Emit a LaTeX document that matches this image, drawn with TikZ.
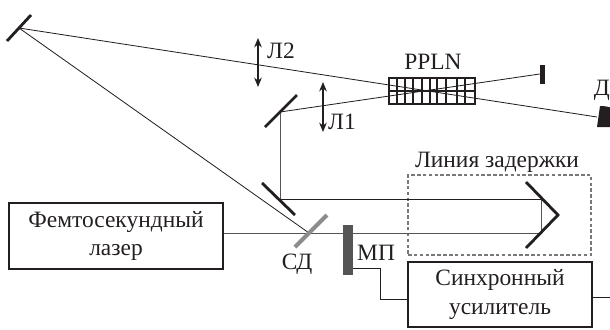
\documentclass[tikz,border=0pt]{standalone}
\usepackage{fontspec}
\setmainfont{Liberation Serif}
\usepackage{xcolor}
\usetikzlibrary{positioning,calc,arrows.meta}
\definecolor{InkDark}{RGB}{35,31,32}
\definecolor{BeamGrey}{RGB}{85,85,85}
\definecolor{DashGrey}{RGB}{120,120,120}
\definecolor{SplitGrey}{RGB}{140,140,140}
\begin{document}
\begin{tikzpicture}[
      x=0.03cm, y=-0.03cm,
      unit/.style={rectangle, draw=InkDark, line width=1.5pt, align=center, inner sep=0pt, font=\fontsize{20}{24}\selectfont, text=InkDark},
      tag/.style={inner sep=0pt, font=\fontsize{20}{23}\selectfont, text=InkDark},
      beam/.style={line width=0.7pt, InkDark},
      greybeam/.style={line width=0.8pt, BeamGrey},
      mirror/.style={line width=2.4pt, InkDark},
      lens/.style={{Stealth[length=8pt,width=6.5pt]}-{Stealth[length=8pt,width=6.5pt]}, line width=1.6pt, InkDark}
    ]
      \useasboundingbox (0,0) rectangle (610,329);
      \clip (0,0) rectangle (610,329);
      % boxes
      \node[unit, minimum width=214*0.03cm, minimum height=66*0.03cm] (laser) at (116,236) {Фемтосекундный\\лазер};
      \node[unit, minimum width=184*0.03cm, minimum height=65*0.03cm] (amp) at (500,294.5) {Синхронный\\усилитель};
      \node[draw=DashGrey, densely dashed, line width=0.9pt, minimum width=183*0.03cm, minimum height=80*0.03cm, inner sep=0pt] (delay) at (499.5,215) {};
      \node[draw=InkDark, line width=1.2pt, minimum width=86*0.03cm, minimum height=26*0.03cm, inner sep=0pt] (crystal) at (432,91) {};
      \node[rectangle, fill=BeamGrey, minimum width=10*0.03cm, minimum height=50*0.03cm, inner sep=0pt] (chopper) at (348,250) {};
      \node[rectangle, fill=InkDark, minimum width=5*0.03cm, minimum height=19*0.03cm, inner sep=0pt] (dump) at (542.5,74) {};

      % mirror points
      \coordinate (mtop) at (19,28);
      \coordinate (mup) at (280,112);
      \coordinate (mlow) at (280,199.5);
      \coordinate (split) at (309,233);
      \coordinate (vtop) at (541,199.5);
      \coordinate (vlow) at (541,233);
      \coordinate (det) at (597,117);
      \coordinate (chopout) at (353,268);
      \coordinate (ampin) at (408,299);
      \coordinate (ampfree) at (610,297);
      \coordinate (mplabelpos) at (357,253);

      % beams
      \draw[beam] (mtop) -- (det);
      \draw[beam] (mtop) -- (split);
      \draw[beam] (mup) -- (dump.west);
      \draw[greybeam] (mup) -- (mlow);
      \draw[beam] (mlow) -- (vtop);
      \draw[greybeam] (vtop) -- (vlow);
      \draw[greybeam] (laser.east |- vlow) -- (vlow);
      \draw[beam] (chopout) -| (380,299) -- (ampin);
      \draw[beam] (amp.east |- ampfree) -- (ampfree);

      % crystal grating
      \draw[line width=1.1pt, InkDark] (crystal.west) -- (crystal.east);
      \foreach \gx in {397,405,413,422,430,437,446,457,465}
        \draw[line width=1.1pt, InkDark] (\gx,78) -- (\gx,104);

      % mirrors
      \draw[mirror] (7,41) -- (31,15);
      \draw[mirror] (265,127) -- (297,95);
      \draw[mirror] (262,183) -- (295,215);
      \draw[mirror] (526,182) -- (558,215) -- (526,248);
      \draw[SplitGrey, line width=3.4pt] (295,247) -- (327,215);

      % lenses
      \draw[lens] (258,38) -- (258,87);
      \draw[lens] (323,82) -- (323,132);

      % detector
      \fill[InkDark] (597,127) -- (600,106) .. controls (606,106) and (611,107) .. (615,110) -- (615,127) -- cycle;

      % labels
      \node[tag, anchor=west] (mplabel) at (mplabelpos) {МП};
      \node[tag] (sdlabel) at (297,264) {СД};
      \node[tag] (l2label) at (281,51) {Л2};
      \node[tag] (l1label) at (342,122) {Л1};
      \node[tag] (crystallabel) at (433,62) {PPLN};
      \node[tag, anchor=east] (dlabel) at (610,90) {Д};
      \node[tag] (delaylabel) at (497,162) {Линия задержки};
    \end{tikzpicture}
\end{document}
